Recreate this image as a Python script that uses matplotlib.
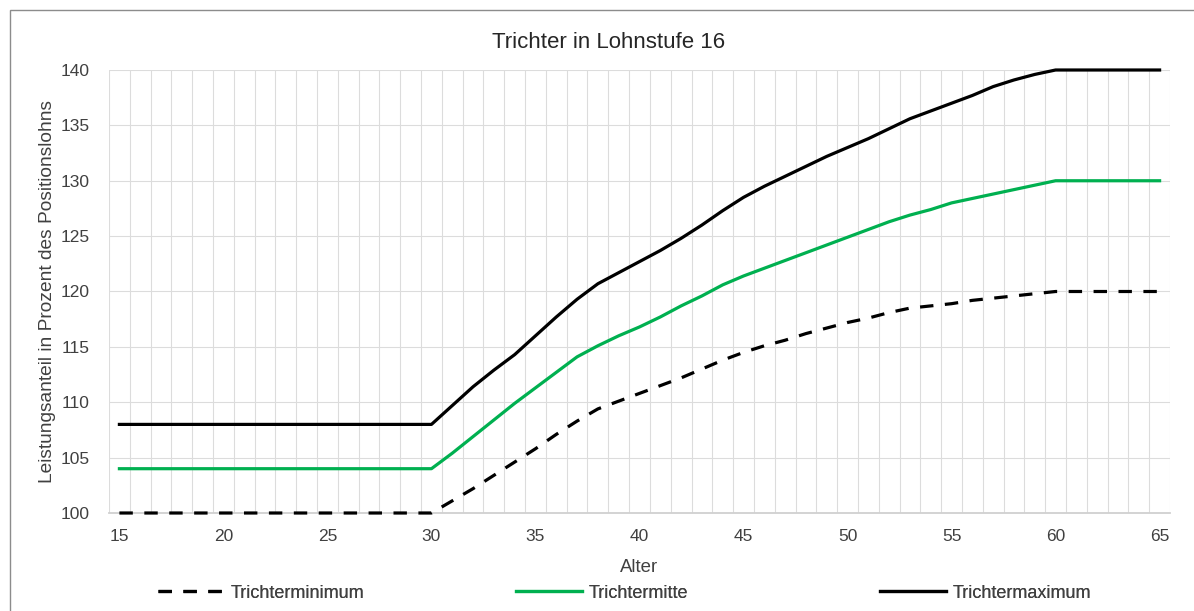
import matplotlib
matplotlib.use('Agg')
import matplotlib.pyplot as plt
from matplotlib.lines import Line2D
from matplotlib.patches import Rectangle
import numpy as np

plt.rcParams['font.family'] = ['Liberation Sans', 'DejaVu Sans']

# Daten
alter = list(range(15, 66))
trichter_min = [100] * 16 + [101.1, 102.2, 103.4, 104.6, 105.8, 107.1, 108.3, 109.4, 110.1, 110.8,
                             111.5, 112.2, 113.0, 113.8, 114.5, 115.1, 115.6, 116.2, 116.7, 117.2,
                             117.6, 118.1, 118.5, 118.7, 118.9, 119.2, 119.4, 119.6, 119.8] + [120] * 6
trichter_mitte = [104] * 16 + [105.4, 106.9, 108.4, 109.9, 111.3, 112.7, 114.1, 115.1, 116.0, 116.8,
                               117.7, 118.7, 119.6, 120.6, 121.4, 122.1, 122.8, 123.5, 124.2, 124.9,
                               125.6, 126.3, 126.9, 127.4, 128.0, 128.4, 128.8, 129.2, 129.6] + [130] * 6
trichter_max = [108] * 16 + [109.7, 111.4, 112.9, 114.3, 116.0, 117.7, 119.3, 120.7, 121.7, 122.7,
                             123.7, 124.8, 126.0, 127.3, 128.5, 129.5, 130.4, 131.3, 132.2, 133.0,
                             133.8, 134.7, 135.6, 136.3, 137.0, 137.7, 138.5, 139.1, 139.6] + [140] * 6

textfarbe = '#404040'
gruen = '#00B050'

fig = plt.figure(figsize=(11.94, 6.11), dpi=100)
ax = fig.add_axes([109 / 1194, 1 - 513 / 611, (1170 - 109) / 1194, (513 - 70) / 611])

# Rahmen des Diagramms
fig.add_artist(Rectangle((9.5 / 1194, -0.1), 1.2, 1 - 9.5 / 611 + 0.1, transform=fig.transFigure,
                         fill=False, edgecolor='#8c8c8c', linewidth=1.0))

ax.plot(alter, trichter_min, color='black', linewidth=2.3, dashes=(4.2, 3.6), clip_on=False, zorder=3)
ax.plot(alter, trichter_mitte, color=gruen, linewidth=2.3, clip_on=False, zorder=3)
ax.plot(alter, trichter_max, color='black', linewidth=2.3, clip_on=False, zorder=3)

ax.set_xlim(14.5, 65.5)
ax.set_ylim(100, 140)
ax.set_xticks(range(15, 66, 5))
ax.set_xticks(np.arange(14.5, 66, 1), minor=True)
ax.set_yticks(range(100, 141, 5))
ax.grid(True, which='minor', axis='x', color='#dcdcdc', linewidth=0.8)
ax.grid(True, which='major', axis='y', color='#dcdcdc', linewidth=0.8)
ax.set_axisbelow(True)
for s in ['top', 'right', 'left']:
    ax.spines[s].set_visible(False)
ax.spines['bottom'].set_color('#d0d0d0')
ax.spines['bottom'].set_linewidth(1.3)
ax.tick_params(which='both', length=0)
ax.tick_params(axis='x', pad=11.5, labelsize=12.5, colors=textfarbe)
ax.tick_params(axis='y', pad=14, labelsize=12.5, colors=textfarbe)

# Titel über der Mitte des Diagrammbereichs
fig.text(609 / 1194, 1 - 42 / 611, 'Trichter in Lohnstufe 16', fontsize=16, color='#262626',
         ha='center', va='center')
ax.set_xlabel('Alter', fontsize=13.4, color=textfarbe, labelpad=11)
ax.set_ylabel('Leistungsanteil in Prozent des Positionslohns', fontsize=13.8, color=textfarbe, labelpad=3)

# Legende mit festen Abständen
eintraege = [
    (Line2D([], [], color='black', linewidth=2.3, dashes=(4.2, 3.6)), 'Trichterminimum', 158),
    (Line2D([], [], color=gruen, linewidth=2.3), 'Trichtermitte', 516),
    (Line2D([], [], color='black', linewidth=2.3), 'Trichtermaximum', 880),
]
for handle, label, xpos in eintraege:
    leg = fig.legend([handle], [label], loc='center left', bbox_to_anchor=(xpos / 1194, 1 - 593 / 611),
                     frameon=False, fontsize=13, handlelength=3.65, handletextpad=0.35,
                     labelcolor=textfarbe, borderaxespad=0, borderpad=0)
    fig.add_artist(leg)

fig.savefig('out.png', dpi=100)
